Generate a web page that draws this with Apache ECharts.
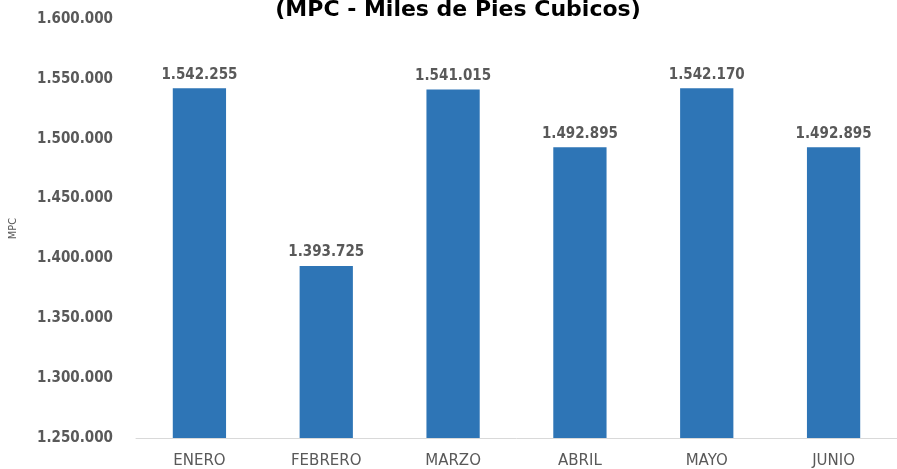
<!DOCTYPE html>
<html>
<head>
<meta charset="utf-8">
<script src="https://cdn.jsdelivr.net/npm/echarts@6/dist/echarts.min.js"></script>
<style>
  html, body { margin: 0; padding: 0; background: #fff; }
  #chart { width: 897px; height: 469px; }
</style>
</head>
<body>
<div id="chart"></div>
<script>
// datos del grafico
const meses = ["ENERO", "FEBRERO", "MARZO", "ABRIL", "MAYO", "JUNIO"];
const valores = [1542255, 1393725, 1541015, 1492895, 1542170, 1492895];
const tituloTexto = "(MPC - Miles de Pies Cubicos)";
const ejeNombre = "MPC";

function miles(v) {
  return String(Math.round(v)).replace(/\B(?=(\d{3})+(?!\d))/g, ".");
}

const fuente = "'DejaVu Sans Condensed', 'Roboto', sans-serif";
const fuenteAncha = "'DejaVu Sans', sans-serif";
const gris = "#595959";

const myChart = echarts.init(document.getElementById("chart"));
myChart.setOption({
  animation: false,
  title: {
    text: tituloTexto,
    left: 453,
    textAlign: "center",
    top: -6,
    textStyle: { fontFamily: fuenteAncha, fontSize: 22, fontWeight: "bold", color: "#000" },
  },
  grid: { left: 135, right: 0, top: 19, bottom: 31 },
  xAxis: {
    type: "category",
    data: meses,
    axisLine: { lineStyle: { color: "#d9d9d9", width: 1 } },
    axisTick: { show: false },
    axisLabel: { color: gris, fontFamily: fuenteAncha, fontSize: 15, margin: 16 },
  },
  yAxis: {
    type: "value",
    min: 1250000,
    max: 1600000,
    interval: 50000,
    name: ejeNombre,
    nameLocation: "middle",
    nameGap: 117,
    nameRotate: 90,
    nameTextStyle: { color: gris, fontFamily: fuente, fontSize: 11 },
    splitLine: { show: false },
    axisLine: { show: false },
    axisTick: { show: false },
    axisLabel: {
      color: gris, fontFamily: fuente, fontSize: 15, fontWeight: "bold", margin: 23,
      formatter: miles,
    },
  },
  series: [
    {
      type: "bar",
      data: valores,
      barWidth: "42%",
      itemStyle: { color: "#2E75B6" },
      label: {
        show: true,
        position: "top",
        distance: 6,
        color: gris,
        fontFamily: fuente,
        fontSize: 15,
        fontWeight: "bold",
        formatter: (p) => miles(p.value),
      },
    },
  ],
});
</script>
</body>
</html>
